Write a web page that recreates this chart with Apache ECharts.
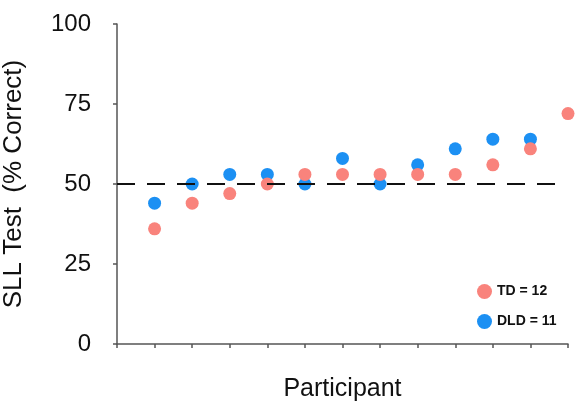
<!DOCTYPE html>
<html>
<head>
<meta charset="utf-8">
<script src="https://cdn.jsdelivr.net/npm/echarts@6/dist/echarts.min.js"></script>
<style>
  html, body { margin: 0; padding: 0; background: #fff; }
  #main { width: 578px; height: 406px; }
</style>
</head>
<body>
<div id="main"></div>
<script>
// participant positions (1..12) and scores
var participants = [1, 2, 3, 4, 5, 6, 7, 8, 9, 10, 11, 12];
var tdScores = [36, 44, 47, 50, 53, 53, 53, 53, 53, 56, 61, 72];
var dldScores = [44, 50, 53, 53, 50, 58, 50, 56, 61, 64, 64];
var yTicks = [0, 25, 50, 75, 100];
var chanceX = [0, 11.7];
var chanceY = [50, 50];

var font = 'Liberation Sans, Arial, Helvetica, sans-serif';

function pairs(xs, ys) {
  return ys.map(function (v, i) { return [xs[i], v]; });
}

var chart = echarts.init(document.getElementById('main'), null, { renderer: 'canvas' });

var option = {
  animation: false,
  textStyle: { fontFamily: font },
  grid: { left: 117, right: 10, top: 24, bottom: 62, containLabel: false, outerBoundsMode: 'none' },
  legend: {
    data: ['TD = 12', 'DLD = 11'],
    orient: 'vertical',
    left: 472,
    top: 279,
    itemWidth: 15,
    itemHeight: 15,
    itemGap: 15,
    icon: 'circle',
    textStyle: { fontFamily: font, fontSize: 14, fontWeight: 'bold', color: '#111', padding: [0, 0, 0, 0] }
  },
  xAxis: {
    type: 'value',
    min: 0,
    max: 12,
    interval: 1,
    name: 'Participant',
    nameLocation: 'middle',
    nameGap: 33,
    nameTextStyle: { fontFamily: font, fontSize: 25, color: '#111' },
    axisLine: { show: true, lineStyle: { color: '#555', width: 1.5 } },
    axisTick: { show: true, length: 4, lineStyle: { color: '#555', width: 1.5 } },
    axisLabel: { show: false },
    splitLine: { show: false }
  },
  yAxis: {
    type: 'value',
    min: yTicks[0],
    max: yTicks[yTicks.length - 1],
    interval: 25,
    name: 'SLL Test  (% Correct)',
    nameLocation: 'middle',
    nameGap: 90,
    nameTextStyle: { fontFamily: font, fontSize: 26, color: '#111' },
    axisLine: { show: true, lineStyle: { color: '#555', width: 1.5 } },
    axisTick: { show: true, length: 4, lineStyle: { color: '#555', width: 1.5 } },
    axisLabel: { fontFamily: font, fontSize: 24, color: '#111', margin: 26 },
    splitLine: { show: false }
  },
  series: [
    {
      name: 'DLD = 11',
      type: 'scatter',
      symbolSize: 13,
      itemStyle: { color: '#1C90F3', opacity: 1 },
      data: pairs(participants, dldScores),
      z: 2
    },
    {
      name: 'TD = 12',
      type: 'scatter',
      symbolSize: 13,
      itemStyle: { color: '#F9837C', opacity: 1 },
      data: pairs(participants, tdScores),
      z: 3
    },
    {
      name: 'chance',
      type: 'line',
      showSymbol: false,
      silent: true,
      lineStyle: { color: '#111', width: 2, type: [18, 12] },
      data: pairs(chanceX, chanceY),
      z: 4
    }
  ]
};

chart.setOption(option);
</script>
</body>
</html>
